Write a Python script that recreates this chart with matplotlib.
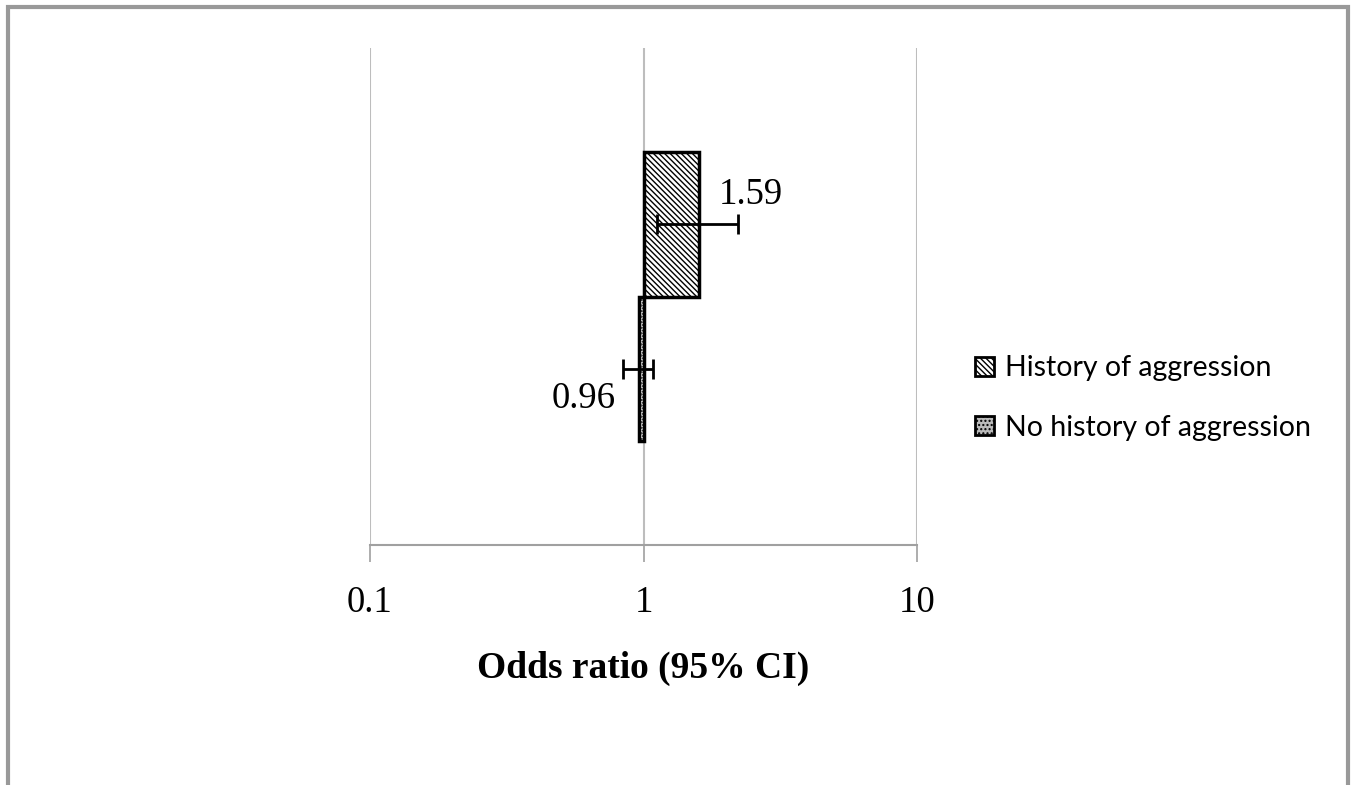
import numpy as np
import matplotlib.pyplot as plt
from matplotlib.patches import Rectangle, Patch

plt.rcParams.update({
    "font.family": "Liberation Serif",
    "hatch.linewidth": 1.0,
})

# data
groups = ["History of aggression", "No history of aggression"]
odds = [1.59, 0.96]
ci_low = [1.12, 0.84]
ci_high = [2.22, 1.08]
labels = ["1.59", "0.96"]
ticks = [0.1, 1, 10]
tick_labels = ["0.1", "1", "10"]

W, H = 1355, 785
fig = plt.figure(figsize=(W / 100, H / 100), dpi=100)
ax = fig.add_axes([370 / W, (H - 545) / H, (917 - 370) / W, (545 - 48) / H])

ypos = [0.29, -0.29]
hatches = ["\\\\\\\\\\\\", "......"]
for y, v, h in zip(ypos, odds, hatches):
    ax.barh(y, v - 1, left=1, height=0.58, color="white", edgecolor="black",
            linewidth=2.5, hatch=h, zorder=3)

for y, v, lo, hi in zip(ypos, odds, ci_low, ci_high):
    ax.errorbar(v, y, xerr=[[v - lo], [hi - v]], fmt="none", ecolor="black",
                elinewidth=2, capsize=7, capthick=2, zorder=4)

ax.text(1.88, 0.41, labels[0], fontsize=26.5, ha="left", va="center")
ax.text(0.79, -0.41, labels[1], fontsize=26.5, ha="right", va="center")

ax.set_xscale("log")
ax.set_xlim(0.1, 10)
ax.set_ylim(-1, 1)
ax.set_xticks(ticks)
ax.set_xticklabels(tick_labels)
ax.minorticks_off()
ax.set_yticks([])
ax.tick_params(axis="x", direction="out", length=12, width=1.2, color="#a0a0a0",
               labelsize=26.5, pad=17)
ax.grid(axis="x", color="#bdbdbd", linewidth=1.5, zorder=0)
for s in ["top", "right", "left"]:
    ax.spines[s].set_visible(False)
ax.spines["bottom"].set_color("#a0a0a0")
ax.spines["bottom"].set_linewidth(1.5)

fig.text(643.5 / W, 1 - 668 / H, "Odds ratio (95% CI)", fontsize=27,
         fontweight="bold", ha="center", va="center")

handles = [Patch(facecolor="white", edgecolor="black", hatch=hatches[0], linewidth=2),
           Patch(facecolor="#bbbbbb", edgecolor="black", hatch="....", linewidth=2)]
fig.legend(handles, groups, loc="center left", bbox_to_anchor=(975 / W, 1 - 398 / H),
           frameon=False, prop={"family": "Lato", "size": 20.5}, handlelength=0.65,
           handleheight=0.65, handletextpad=0.42, labelspacing=1.18, borderpad=0,
           borderaxespad=0)

# outer grey frame
fig.patches.append(Rectangle((8 / W, -0.05), (1347.5 - 8) / W, 1.05 - 7 / H,
                             transform=fig.transFigure, fill=False,
                             edgecolor="#999999", linewidth=3))

fig.savefig("out.png", dpi=100)
